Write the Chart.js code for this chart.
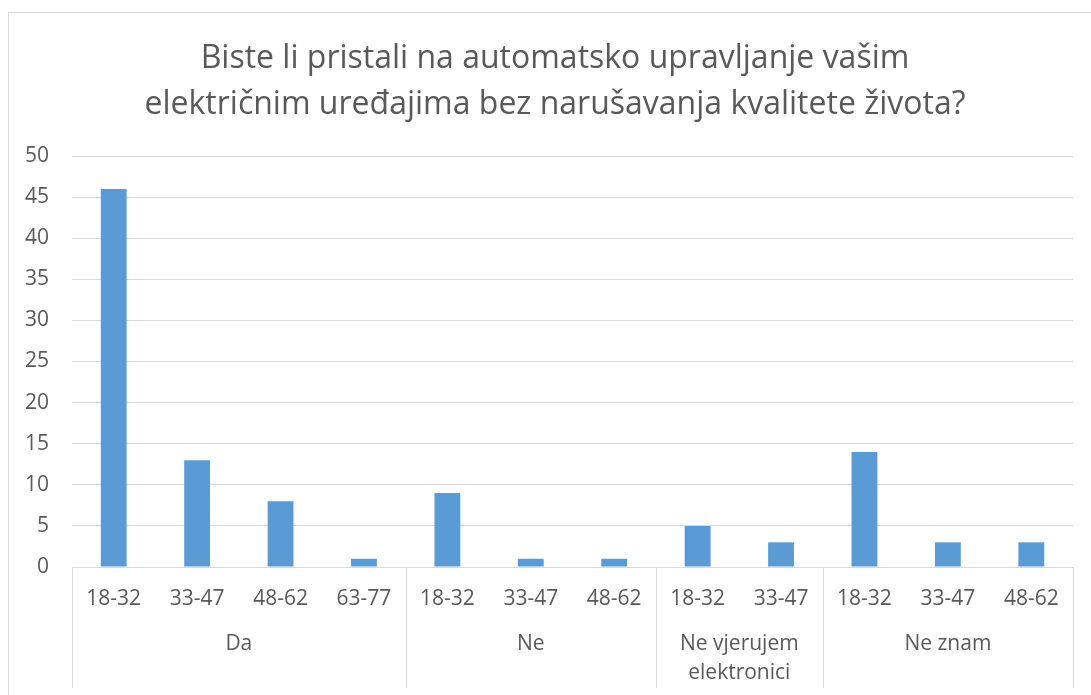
<!DOCTYPE html>
<html>
<head>
<meta charset="utf-8">
<script src="https://cdn.jsdelivr.net/npm/chart.js@4"></script>
<style>
    html, body { margin: 0; padding: 0; background: #fff; overflow: hidden; }
    #wrap { position: absolute; left: 8px; top: 12px; width: 1094px; height: 683px; }
</style>
</head>
<body>
<div id="wrap"><canvas id="surveyChart" width="1094" height="683"></canvas></div>
<script>
// ==========================================
// Survey data
// ==========================================
const ageLabels = ['18-32', '33-47', '48-62', '63-77', '18-32', '33-47', '48-62', '18-32', '33-47', '18-32', '33-47', '48-62'];
const groupLabels = [['Da'], ['Ne'], ['Ne vjerujem', 'elektronici'], ['Ne znam']];
const groupSizes = [4, 3, 2, 3];
const responses = [46, 13, 8, 1, 9, 1, 1, 5, 3, 14, 3, 3];
const titleLines = ['Biste li pristali na automatsko upravljanje vašim', 'električnim uređajima bez narušavanja kvalitete života?'];

const FONT = '"Open Sans", sans-serif';
const TEXT = '#595959';
const GRID = '#d9d9d9';

// Frame, title and the grouped category axis
const decorations = {
    id: 'decorations',
    beforeDraw(chart) {
        const ctx = chart.ctx;
        ctx.save();
        ctx.strokeStyle = GRID;
        ctx.lineWidth = 1;
        ctx.strokeRect(0.5, 0.5, chart.width + 10, chart.height + 10);

        ctx.fillStyle = TEXT;
        ctx.font = '32px ' + FONT;
        ctx.textAlign = 'center';
        ctx.textBaseline = 'middle';
        titleLines.forEach((line, i) => ctx.fillText(line, chart.width / 2, 47 + i * 46));
        ctx.restore();
    },
    afterDraw(chart) {
        const ctx = chart.ctx;
        const x = chart.scales.x;
        const top = x.top;
        const bottom = 676;
        const edge = i => i === 0 ? x.left
            : i === ageLabels.length ? x.right
            : (x.getPixelForValue(i - 1) + x.getPixelForValue(i)) / 2;

        ctx.save();
        ctx.strokeStyle = GRID;
        ctx.lineWidth = 1;
        ctx.fillStyle = TEXT;
        ctx.font = '21px ' + FONT;
        ctx.textAlign = 'center';
        ctx.textBaseline = 'middle';

        let start = 0;
        groupSizes.forEach((size, g) => {
            const x0 = edge(start);
            const x1 = edge(start + size);
            groupLabels[g].forEach((line, k) => ctx.fillText(line, (x0 + x1) / 2, 632 + k * 29));
            start += size;
        });

        let idx = 0;
        [0].concat(groupSizes).forEach(size => {
            idx += size;
            const px = Math.round(edge(idx)) + 0.5;
            ctx.beginPath();
            ctx.moveTo(px, top);
            ctx.lineTo(px, bottom);
            ctx.stroke();
        });
        ctx.restore();
    }
};

new Chart(document.getElementById('surveyChart'), {
    type: 'bar',
    data: {
        labels: ageLabels,
        datasets: [{
            data: responses,
            backgroundColor: '#5b9bd5',
            borderWidth: 0,
            categoryPercentage: 1,
            barPercentage: 0.31
        }]
    },
    options: {
        responsive: false,
        animation: false,
        events: [],
        layout: { padding: { top: 144, left: 0, right: 29, bottom: 0 } },
        plugins: {
            legend: { display: false },
            title: { display: false },
            tooltip: { enabled: false }
        },
        scales: {
            x: {
                grid: { display: false },
                border: { display: false },
                ticks: {
                    color: TEXT,
                    font: { family: FONT, size: 21 },
                    padding: 11,
                    maxRotation: 0,
                    autoSkip: false
                },
                afterFit(scale) { scale.height = 128; }
            },
            y: {
                min: 0,
                max: 50,
                grid: { color: GRID, drawTicks: false },
                border: { display: false },
                ticks: {
                    stepSize: 5,
                    color: TEXT,
                    font: { family: FONT, size: 21 },
                    padding: 23
                },
                afterFit(scale) { scale.width = 64; }
            }
        }
    },
    plugins: [decorations]
});
</script>
</body>
</html>
